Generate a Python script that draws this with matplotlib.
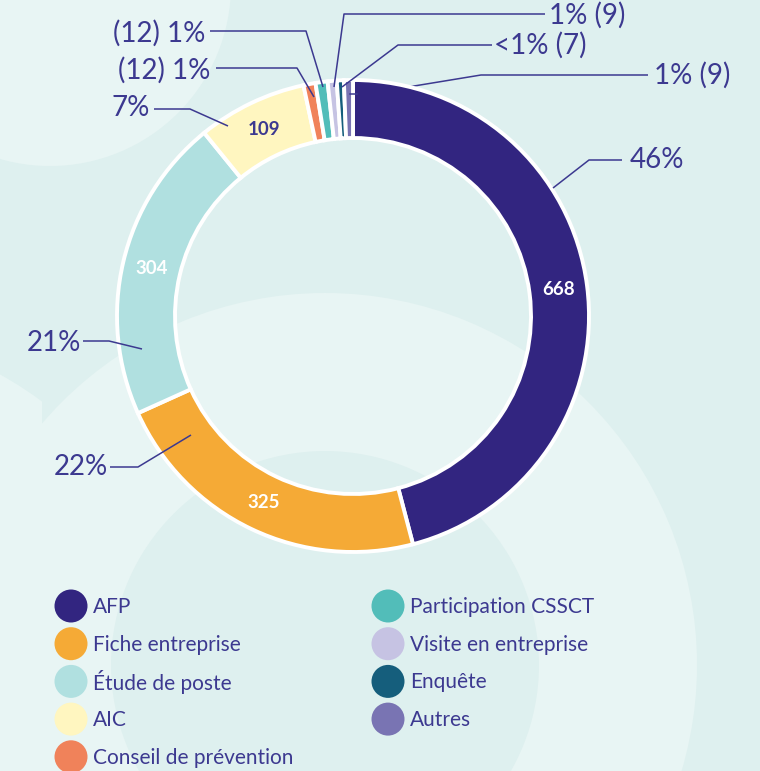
import matplotlib.pyplot as plt
from matplotlib.patches import Circle, Wedge, Rectangle
import numpy as np

# data
categories = ["AFP", "Fiche entreprise", "Étude de poste", "AIC", "Conseil de prévention",
              "Participation CSSCT", "Visite en entreprise", "Enquête", "Autres"]
values = [668, 325, 304, 109, 12, 12, 9, 7, 9]
colors = ["#322580", "#F5AA36", "#B0E0E0", "#FFF6C0", "#F0825A",
          "#52BDB9", "#C6C3E3", "#155E7C", "#7974B3"]

W, H = 760, 771
TXT = "#3C3990"
BG = "#DEF0EF"
LIGHT = "#E8F5F4"

plt.rcParams['font.family'] = ['Lato', 'DejaVu Sans']

fig = plt.figure(figsize=(7.6, 7.71), dpi=100, facecolor=BG)
ax = fig.add_axes([0, 0, 1, 1])
ax.set_facecolor(BG)


def Y(y):
    # image row -> data y
    return H - y


# background decoration
ax.add_patch(Circle((50, Y(-15)), 181, color=LIGHT, lw=0, zorder=0))
ax.add_patch(Wedge((325, Y(665)), 372, 0, 360, width=158, color=LIGHT, lw=0, zorder=0))
band2 = Wedge((-180, Y(700)), 372, 0, 360, width=142, color=LIGHT, lw=0, zorder=0)
ax.add_patch(band2)
clip = Rectangle((0, 0), 42, H, transform=ax.transData)
band2.set_clip_path(clip)

# donut
cx, cy = 353, Y(316)
R, ring = 236, 58
wedges, _ = ax.pie(values, colors=colors, startangle=90, counterclock=False,
                   radius=R, center=(cx, cy),
                   wedgeprops=dict(width=ring, edgecolor="white", linewidth=2.8))
for w in wedges:
    w.set_zorder(2)

total = sum(values)
cum = np.cumsum([0] + values)

# values inside the big slices
for i, v in enumerate(values):
    if v < 100:
        continue
    mid = np.radians((cum[i] + v / 2) / total * 360)
    r = R - ring / 2
    tc = TXT if i == 3 else "white"
    ax.text(cx + r * np.sin(mid), cy + r * np.cos(mid), str(v), ha="center", va="center",
            fontsize=13.5, fontweight="bold", color=tc, zorder=4)

# label layout (image px): text pos, alignment, leader points
lab_pos = [(630, 160), (108, 467), (81, 343), (150, 108), (210, 70),
           (205, 33), (549, 15), (494, 45), (654, 75)]
lab_ha = ["left", "right", "right", "right", "right", "right", "left", "left", "left"]
leaders = [
    [(553, 188), (589, 160), (622, 160)],
    [(191, 435), (138, 467), (110, 467)],
    [(142, 349), (109, 341), (83, 341)],
    [(228, 126), (190, 109), (154, 109)],
    [(314, 97), (297, 68), (216, 68)],
    [(323, 87), (306, 31), (210, 31)],
    [(334, 87), (344, 14), (545, 14)],
    [(342, 87), (398, 45), (492, 45)],
    [(357, 94), (408, 87), (481, 75), (648, 75)],
]

for i, v in enumerate(values):
    pct = v / total * 100
    p = "<1%" if pct < 0.5 else f"{round(pct)}%"
    if v < 100:
        txt = f"({v}) {p}" if lab_ha[i] == "right" else f"{p} ({v})"
    else:
        txt = p
    tx, ty = lab_pos[i]
    ax.text(tx, Y(ty), txt, ha=lab_ha[i], va="center", fontsize=20,
            color=TXT, zorder=5)
    pts = leaders[i]
    z = 1.5 if i == 8 else 3
    ax.plot([q[0] for q in pts], [Y(q[1]) for q in pts], color=TXT, lw=1.1,
            zorder=z, solid_capstyle="butt")

# little tick on the Autres slice
ax.plot([350, 357], [Y(94), Y(94)], color=TXT, lw=1.1, zorder=3)

# legend
for i, (lab, col) in enumerate(zip(categories, colors)):
    c, r = divmod(i, 5)
    x0 = 71 if c == 0 else 388
    y0 = 606 + r * 37.7
    ax.add_patch(Circle((x0, Y(y0)), 16.5, color=col, lw=0, zorder=3))
    ax.text(x0 + 22, Y(y0 + 1), lab, ha="left", va="center", fontsize=15,
            color=TXT, zorder=4)

ax.set_xlim(0, W)
ax.set_ylim(0, H)
ax.axis("off")

fig.savefig("out.png", dpi=100, facecolor=BG)
